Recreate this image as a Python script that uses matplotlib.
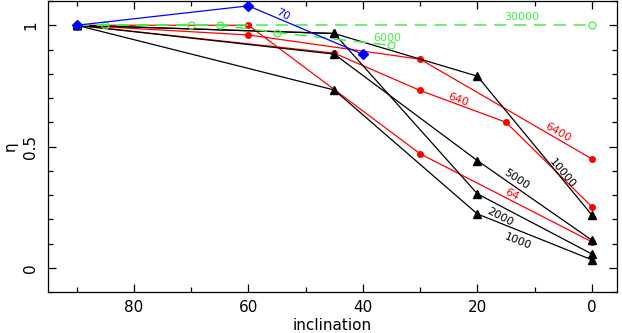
import matplotlib
matplotlib.use("Agg")
import matplotlib.pyplot as plt
from matplotlib.ticker import MultipleLocator

# ---- data ----
inc_64 = [90, 60, 30, 0]
eta_64 = [1.0, 1.0, 0.47, 0.107]
inc_640 = [90, 45, 30, 15, 0]
eta_640 = [1.0, 0.885, 0.731, 0.60, 0.252]
inc_6400 = [90, 60, 30, 0]
eta_6400 = [1.0, 0.96, 0.86, 0.449]

inc_1000 = [90, 45, 20, 0]
eta_1000 = [1.0, 0.733, 0.222, 0.033]
inc_2000 = [90, 45, 20, 0]
eta_2000 = [1.0, 0.966, 0.305, 0.057]
inc_5000 = [90, 45, 20, 0]
eta_5000 = [1.0, 0.881, 0.442, 0.114]
inc_10000 = [90, 45, 20, 0]
eta_10000 = [1.0, 0.966, 0.79, 0.218]

inc_6000 = [90, 85, 65, 55, 35]
eta_6000 = [1.0, 1.0, 1.0, 0.97, 0.917]
inc_30000 = [90, 70, 0]
eta_30000 = [1.0, 1.0, 1.0]

inc_70 = [90, 60, 40]
eta_70 = [1.0, 1.08, 0.88]

# labels: text, x, y, rotation, colour
labels = [
    ("70", 54.0, 1.045, -28, "blue"),
    ("30000", 12.2, 1.033, 0, "#44ee44"),
    ("6000", 35.8, 0.948, 0, "#44ee44"),
    ("640", 23.4, 0.692, -20, "red"),
    ("6400", 5.9, 0.558, -30, "red"),
    ("10000", 5.1, 0.39, -50, "black"),
    ("5000", 13.1, 0.364, -34, "black"),
    ("64", 14.0, 0.30, -27, "red"),
    ("2000", 16.1, 0.21, -28, "black"),
    ("1000", 12.9, 0.107, -22, "black"),
]

green = "#44ee44"
fig = plt.figure(figsize=(6.22, 3.33), dpi=100)
ax = fig.add_axes([0.0772, 0.123, 0.9148, 0.874])

lw = 0.9
for x, y in [(inc_64, eta_64), (inc_640, eta_640), (inc_6400, eta_6400)]:
    ax.plot(x, y, color="red", lw=lw, marker="o", ms=4, mec="red", mfc="red", zorder=2)
for x, y in [(inc_1000, eta_1000), (inc_2000, eta_2000), (inc_5000, eta_5000), (inc_10000, eta_10000)]:
    ax.plot(x, y, color="black", lw=lw, marker="^", ms=6, zorder=3)
for x, y in [(inc_30000, eta_30000), (inc_6000, eta_6000)]:
    ax.plot(x, y, color=green, lw=1.1, ls=(0, (8, 5)), marker="o", ms=5,
            mfc="none", mec=green, mew=0.9, zorder=4)
ax.plot(inc_70, eta_70, color="blue", lw=lw, marker="D", ms=5, mfc="blue", mec="blue", zorder=5)

for t, x, y, r, c in labels:
    ax.text(x, y, t, color=c, fontsize=8, rotation=r, ha="center", va="center",
            rotation_mode="anchor", zorder=6)

ax.set_xlim(95, -4.4)
ax.set_ylim(-0.1, 1.1)
ax.xaxis.set_major_locator(MultipleLocator(20))
ax.xaxis.set_minor_locator(MultipleLocator(10))
ax.yaxis.set_major_locator(MultipleLocator(0.5))
ax.yaxis.set_minor_locator(MultipleLocator(0.1))
ax.set_yticks([0, 0.5, 1])
ax.set_yticklabels(["0", "0.5", "1"], rotation=90, va="center")
ax.tick_params(which="both", direction="in", top=True, right=True, labelsize=11, width=0.9)
ax.tick_params(which="major", length=6)
ax.tick_params(which="minor", length=3.5)
ax.tick_params(axis="x", pad=6)
ax.tick_params(axis="y", pad=7)
for s in ax.spines.values():
    s.set_linewidth(0.9)

ax.set_xlabel("inclination", fontsize=11, labelpad=2)
ax.set_ylabel("η", fontsize=11, labelpad=4)

fig.savefig("out.png", dpi=100)
